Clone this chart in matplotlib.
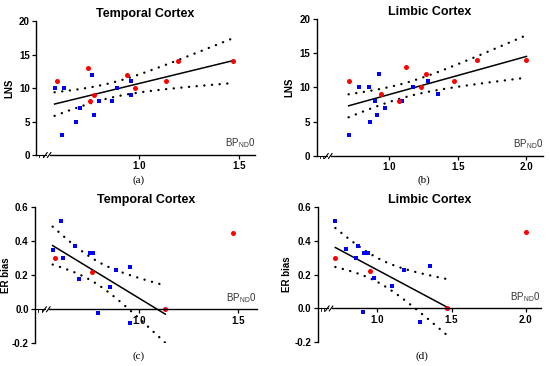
import numpy as np
import matplotlib
matplotlib.use("Agg")
import matplotlib.pyplot as plt
import matplotlib.transforms as mtransforms

plt.rcParams['font.family'] = ['Liberation Sans', 'DejaVu Sans']
plt.rcParams['mathtext.default'] = 'regular'
plt.rcParams['axes.unicode_minus'] = False

# (a) Temporal cortex, LNS vs BPND0
a_red_x = [0.585, 0.741, 0.753, 0.773, 0.938, 0.978, 1.134, 1.196, 1.472]
a_red_y = [11, 13, 8, 9, 12, 10, 11, 14, 14]
a_blue_x = [0.575, 0.624, 0.614, 0.682, 0.702, 0.761, 0.773, 0.799, 0.861, 0.890, 0.960, 0.960]
a_blue_y = [10, 10, 3, 5, 7, 12, 6, 8, 8, 10, 11, 9]

# (b) Limbic cortex, LNS vs BPND0
b_red_x = [0.708, 0.942, 1.075, 1.126, 1.237, 1.268, 1.471, 1.643, 2.0]
b_red_y = [11, 9, 8, 13, 10, 12, 11, 14, 14]
b_blue_x = [0.708, 0.780, 0.853, 0.862, 0.903, 0.913, 0.932, 0.973, 1.094, 1.176, 1.287, 1.357]
b_blue_y = [3, 10, 10, 5, 8, 6, 12, 7, 8, 10, 11, 9]

# (c) Temporal cortex, ER bias vs BPND0
c_red_x = [0.577, 0.765, 1.134, 1.473]
c_red_y = [0.30, 0.22, 0.0, 0.45]
c_blue_x = [0.567, 0.607, 0.617, 0.678, 0.698, 0.755, 0.768, 0.797, 0.856, 0.886, 0.955, 0.955]
c_blue_y = [0.35, 0.52, 0.30, 0.37, 0.18, 0.33, 0.33, -0.02, 0.13, 0.23, 0.25, -0.08]

# (d) Limbic cortex, ER bias vs BPND0
d_red_x = [0.717, 0.948, 1.467, 2.0]
d_red_y = [0.30, 0.22, 0.0, 0.45]
d_blue_x = [0.717, 0.787, 0.856, 0.867, 0.912, 0.935, 0.906, 0.978, 1.097, 1.178, 1.288, 1.357]
d_blue_y = [0.52, 0.35, 0.30, 0.37, 0.33, 0.33, -0.02, 0.18, 0.13, 0.23, -0.08, 0.25]

RED = '#ff0000'
BLUE = '#0000ff'


def fit_bands(x, y, tcrit):
    x = np.asarray(x, float)
    y = np.asarray(y, float)
    n = len(x)
    b, a = np.polyfit(x, y, 1)
    res = y - (a + b * x)
    s = np.sqrt(np.sum(res ** 2) / (n - 2))
    xs = np.linspace(x.min(), x.max(), 200)
    yh = a + b * xs
    se = s * np.sqrt(1.0 / n + (xs - x.mean()) ** 2 / np.sum((x - x.mean()) ** 2))
    return xs, yh, yh - tcrit * se, yh + tcrit * se


def panel(rect, title, rx, ry, bx, by, xlim, ylim, yticks, xticks, ylabel,
          zero_axis, tcrit, exclude_last_red=False, label_off=22):
    ax = fig.add_axes(rect)
    for sp in ('top', 'right'):
        ax.spines[sp].set_visible(False)
    if zero_axis:
        ax.spines['bottom'].set_position(('data', 0))
    fx = list(rx[:-1] if exclude_last_red else rx) + list(bx)
    fy = list(ry[:-1] if exclude_last_red else ry) + list(by)
    xs, yh, lo, hi = fit_bands(fx, fy, tcrit)
    ax.plot(xs, yh, color='black', lw=1.1)
    for band in (lo, hi):
        ax.plot(xs, band, color='black', lw=1.7, ls=(0, (0.05, 3.2)),
                dash_capstyle='round')
    ax.plot(bx, by, ls='none', marker='s', ms=3.4, color=BLUE, mew=0)
    ax.plot(rx, ry, ls='none', marker='o', ms=3.6, color=RED, mew=0)

    ax.set_xlim(*xlim)
    ax.set_ylim(*ylim)
    ax.set_yticks(yticks)
    ax.set_yticklabels([('%.1f' % v) if zero_axis else ('%g' % v) for v in yticks],
                       fontsize=7, fontweight='bold')
    ax.set_xticks(xticks)
    ax.set_xticklabels(['%.1f' % v for v in xticks], fontsize=7, fontweight='bold')
    ax.tick_params(length=3, width=0.9, pad=1.5)
    ax.spines['left'].set_linewidth(1.0)
    ax.spines['bottom'].set_linewidth(1.0)

    # axis break near the origin
    span = xlim[1] - xlim[0]
    brk = xlim[0] + 0.065 * span
    ax.spines['bottom'].set_bounds(brk, xlim[1])
    y0 = 0.0 if zero_axis else ylim[0]
    dy = (ylim[1] - ylim[0]) * 0.018
    ax.plot([xlim[0], xlim[0] + 0.045 * span], [y0, y0], color='black', lw=0.8,
            clip_on=False)
    for k in (0.015, 0.03):
        xk = xlim[0] + k * span
        ax.plot([xk, xk], [y0, y0 - dy], color='black', lw=0.6, clip_on=False)
    for off in (0.043, 0.06):
        x0 = xlim[0] + off * span
        ax.plot([x0 - 0.008 * span, x0 + 0.008 * span], [y0 - dy, y0 + dy],
                color='black', lw=0.8, clip_on=False)

    ax.text(xlim[1], y0 + 0.035 * (ylim[1] - ylim[0]), 'BP$_{ND}$0', ha='right',
            va='bottom', fontsize=7, color='#333333')
    ax.set_title(title, fontsize=9, fontweight='bold', pad=3)
    ax.set_ylabel(ylabel, fontsize=7, fontweight='bold')
    ax.yaxis.set_label_coords(-label_off / (rect[2] * 550), 0.5)
    return ax


fig = plt.figure(figsize=(5.5, 3.66), dpi=100)

panel([0.0655, 0.5765, 0.398, 0.366], 'Temporal Cortex', a_red_x, a_red_y, a_blue_x, a_blue_y,
      (0.482, 1.58), (0, 20), [0, 5, 10, 15, 20], [1.0, 1.5], 'LNS', False, 2.093)
panel([0.5758, 0.5738, 0.4115, 0.3743], 'Limbic Cortex', b_red_x, b_red_y, b_blue_x, b_blue_y,
      (0.476, 2.12), (0, 20), [0, 5, 10, 15, 20], [1.0, 1.5, 2.0], 'LNS', False, 2.093)
panel([0.0636, 0.062, 0.403, 0.3716], 'Temporal Cortex', c_red_x, c_red_y, c_blue_x, c_blue_y,
      (0.478, 1.594), (-0.2, 0.6), [-0.2, 0.0, 0.2, 0.4, 0.6], [1.0, 1.5], 'ER bias',
      True, 2.160, exclude_last_red=True, label_off=24)
panel([0.5776, 0.0648, 0.4055, 0.3697], 'Limbic Cortex', d_red_x, d_red_y, d_blue_x, d_blue_y,
      (0.598, 2.10), (-0.2, 0.6), [-0.2, 0.0, 0.2, 0.4, 0.6], [1.0, 1.5, 2.0], 'ER bias',
      True, 2.160, exclude_last_red=True, label_off=26)

for txt, x, y in [('(a)', 139, 180), ('(b)', 424, 180), ('(c)', 139, 356), ('(d)', 422, 356)]:
    fig.text(x / 550, 1 - y / 366, txt, ha='center', va='center', fontsize=8,
             family=['Liberation Serif', 'DejaVu Serif'])

fig.savefig('out.png', dpi=100)
